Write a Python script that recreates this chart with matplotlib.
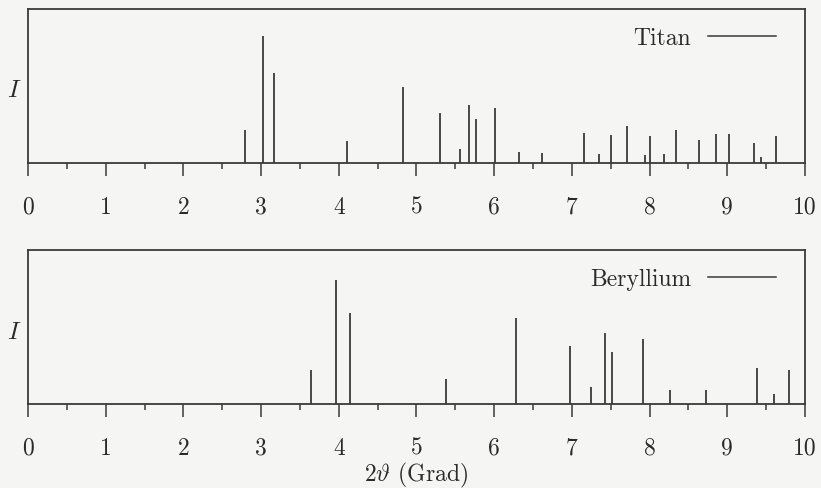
import numpy as np
import matplotlib.pyplot as plt
from matplotlib.ticker import MultipleLocator

# Peak positions 2theta (deg) and relative intensities (strongest line = 100)
titan_pos = [2.79, 3.02, 3.17, 4.10, 4.82, 5.30, 5.56, 5.68, 5.76, 6.01,
             6.32, 6.62, 7.16, 7.35, 7.50, 7.71, 7.94, 8.01, 8.19, 8.34,
             8.63, 8.86, 9.02, 9.35, 9.44, 9.63]
titan_int = [26, 100, 71, 17, 60, 39, 11, 46, 35, 43,
             9, 8, 24, 7, 22, 29, 6, 21, 7, 26,
             18, 23, 23, 16, 4.5, 21]

beryl_pos = [3.64, 3.97, 4.14, 5.38, 6.28, 6.97, 7.25, 7.42, 7.51, 7.92,
             8.26, 8.72, 9.38, 9.60, 9.80]
beryl_int = [27, 100, 73, 20, 69, 47, 14, 57, 42, 52,
             11.5, 11, 29, 8, 27]

x_ticks = np.arange(0, 11, 1)

plt.rcParams['font.family'] = 'cmr10'
plt.rcParams['mathtext.fontset'] = 'cm'
plt.rcParams['axes.formatter.use_mathtext'] = True

ink = '#3a3a3a'
paper = '#f5f5f3'

fig = plt.figure(figsize=(8.21, 4.89), dpi=100, facecolor=paper)
ax_ti = fig.add_axes([0.0341, 0.6646, 0.9464, 0.315])
ax_be = fig.add_axes([0.0341, 0.1718, 0.9464, 0.315])


def stick_panel(ax, pos, inten, name, ytop, ylab_y):
    ax.set_facecolor(paper)
    ax.vlines(pos, 0, inten, color=ink, linewidth=1.3)
    ax.set_xlim(0, 10)
    ax.set_ylim(0, ytop)
    for s in ax.spines.values():
        s.set_color(ink)
        s.set_linewidth(1.3)
    ax.set_xticks(x_ticks)
    ax.set_xticklabels([str(t) for t in x_ticks])
    ax.xaxis.set_minor_locator(MultipleLocator(0.5))
    ax.tick_params(axis='x', which='major', direction='out', length=9.5,
                   width=1.1, color=ink, labelsize=17, labelcolor='#2a2a2a', pad=14)
    ax.tick_params(axis='x', which='minor', direction='out', length=4.0,
                   width=1.1, color=ink)
    ax.set_yticks([])
    ax.set_ylabel('$I$', rotation=0, fontsize=18, color='#2a2a2a', ha='center', va='center')
    ax.yaxis.set_label_coords(-0.018, ylab_y)

    # legend: name followed by a short line sample
    ax.legend(handles=ax.plot([], [], color=ink, linewidth=1.1, label=name),
              loc='upper right', bbox_to_anchor=(0.963, 0.885), frameon=False,
              markerfirst=False, fontsize=17, handlelength=2.9, handletextpad=0.7,
              borderpad=0, borderaxespad=0, labelcolor='#2a2a2a')


stick_panel(ax_ti, titan_pos, titan_int, 'Titan', 121.3, 0.477)
stick_panel(ax_be, beryl_pos, beryl_int, 'Beryllium', 123.9, 0.47)

ax_be.set_xlabel(r'$2\vartheta$ (Grad)', fontsize=17, color='#2a2a2a', va='top')
ax_be.xaxis.set_label_coords(0.5, -0.365)

fig.savefig('out.png', dpi=100, facecolor=paper)
